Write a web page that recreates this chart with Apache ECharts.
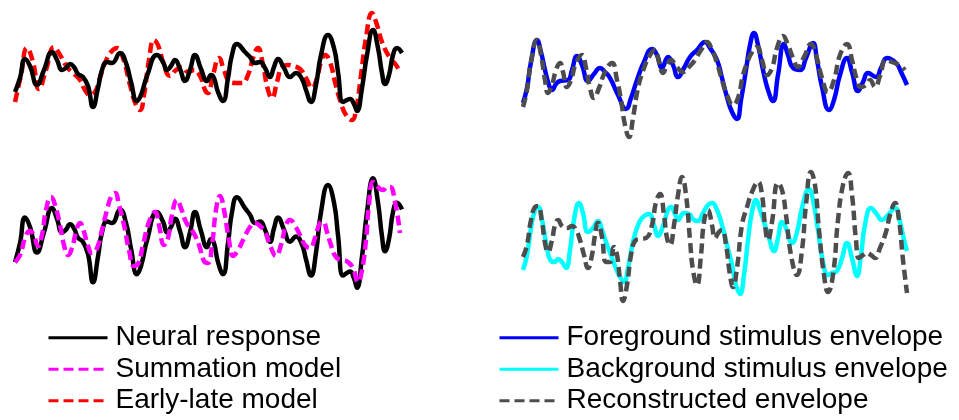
<!DOCTYPE html>
<html>
<head>
<meta charset="utf-8">
<script src="https://cdn.jsdelivr.net/npm/echarts@6/dist/echarts.min.js"></script>
<style>html,body{margin:0;padding:0;background:#fff}#c{width:959px;height:420px}</style>
</head>
<body>
<div id="c"></div>
<script>
// ---- data: [time sample, amplitude] ----
const neuralResponse = [[0,-22],[5,-8],[10,11],[15,4],[22,-15],[29,0],[37,18],[42,10],[47,0],[51,2],[55,6],[59,3],[63,-4],[68,-7],[73,-16],[78,-37],[83,-18],[87,0],[92,8],[97,7],[105,17],[111,7],[116,-12],[122,-31],[126,-25],[132,-6],[142,15],[148,8],[152,0],[156,4],[160,10],[165,1],[170,-11],[175,0],[180,15],[186,1],[192,-11],[196,-5],[199,-8],[203,-22],[208,-31],[213,-8],[217,15],[222,26],[230,18],[235,13],[240,7],[245,8],[250,2],[255,-7],[259,3],[263,11],[269,2],[275,-7],[281,-3],[287,-9],[291,-20],[296,-32],[301,-15],[306,15],[313,35],[319,22],[323,-2],[328,-32],[332,-30],[335,-29],[339,-34],[342,-41],[347,-18],[352,15],[358,40],[363,22],[367,-3],[370,-14],[374,-5],[378,15],[382,22],[387,17]];

const earlyLateModel = [[0,-32],[6,-5],[12,22],[18,8],[24,-19],[31,0],[39,23],[45,15],[52,3],[59,-4],[65,-10],[70,-20],[75,-25],[80,-22],[85,-8],[90,7],[96,18],[102,22],[108,12],[115,-15],[121,-35],[125,-40],[129,-25],[134,10],[139,30],[143,25],[149,5],[155,-6],[161,0],[167,3],[173,-2],[179,0],[185,-6],[190,-20],[193,-23],[198,-5],[204,12],[209,0],[214,-11],[221,-13],[227,-13],[233,-5],[238,12],[243,22],[248,5],[253,-20],[257,-28],[262,-12],[267,3],[273,5],[278,4],[285,1],[291,-8],[297,-18],[302,-8],[306,8],[310,15],[315,8],[320,-12],[325,-30],[331,-45],[337,-50],[341,-40],[346,-5],[351,32],[357,57],[362,45],[367,28],[375,12],[381,5],[385,-2]];

const summationModel = [[0,-22.0],[5,-16.8],[11,-2.0],[15,1.0],[19,-2.7],[23,-10.1],[27,-2.0],[31,16.6],[36,26.2],[40,20.3],[45,5.4],[49,-9.4],[53,-16.8],[57,-11.6],[61,0.3],[65,6.9],[69,0.3],[73,-10.1],[77,-15.3],[82,-11.6],[87,1.7],[92,16.6],[96,26.2],[100,29.1],[104,20.3],[109,5.4],[114,-13.1],[119,-24.9],[123,-23.4],[128,-9.4],[134,7.7],[140,15.1],[144,5.4],[149,-9.4],[153,-4.2],[157,12.9],[162,24.0],[166,18.0],[171,7.7],[178,0.3],[184,-9.4],[189,-21.2],[193,-22.7],[197,-9.4],[201,16.6],[205,26.9],[209,16.6],[214,-5.7],[218,-17.5],[223,-13.1],[229,-4.2],[235,4.0],[240,6.9],[245,4.7],[250,0.3],[255,-9.4],[261,-17.5],[266,-9.4],[271,5.4],[275,9.1],[280,4.7],[285,-2.0],[290,-9.4],[295,-11.6],[300,-4.2],[305,6.9],[308,7.7],[312,0.3],[316,-9.4],[321,-18.3],[327,-20.5],[333,-22.0],[338,-26.4],[343,-36.8],[347,-27.9],[351,-5.7],[354,20.3],[358,37.3],[363,33.6],[368,31.4],[372,33.6],[375,33.6],[380,22.5],[385,-0.5]];

const foregroundEnvelope = [[0,-23],[4,-8],[8,18],[14,40],[18,28],[22,10],[26,-5],[29,-10],[33,-4],[37,-1],[45,0],[49,10],[54,24],[59,15],[65,-1],[71,6],[77,12],[82,8],[87,2],[95,-15],[103,-29],[108,-18],[114,0],[121,18],[129,31],[134,25],[139,12],[145,23],[150,15],[155,3],[161,12],[167,23],[174,30],[182,38],[187,32],[194,20],[199,2],[204,-17],[209,-32],[214,-39],[218,-20],[223,10],[227,35],[231,47],[235,35],[240,10],[245,-10],[250,-21],[255,5],[261,36],[265,25],[270,12],[277,10],[283,22],[290,37],[294,20],[299,-7],[306,-30],[311,-20],[317,5],[324,22],[329,8],[335,-11],[340,-2],[345,7],[353,3],[358,12],[364,22],[373,17],[378,8],[384,-5]];

const reconstructedForeground = [[0,-27],[4,-10],[8,18],[14,40],[18,25],[22,0],[25,-13],[29,-5],[33,10],[37,17],[40,8],[44,-7],[48,0],[53,17],[59,25],[63,12],[67,-8],[71,-18],[76,-8],[82,8],[89,17],[94,0],[98,-20],[102,-45],[106,-57],[110,-38],[115,-8],[121,12],[127,25],[132,30],[136,18],[140,7],[144,15],[148,20],[153,14],[160,8],[166,13],[172,20],[178,30],[184,38],[189,30],[194,17],[199,0],[204,-15],[210,-25],[215,-18],[220,5],[224,17],[229,28],[234,33],[239,20],[244,5],[249,12],[254,32],[260,44],[265,35],[270,22],[275,13],[281,23],[288,36],[293,25],[299,2],[305,-12],[311,0],[317,25],[324,36],[329,20],[334,0],[338,-7],[343,-5],[347,0],[352,-7],[357,4],[363,20],[369,18],[376,15],[382,10]];

const backgroundEnvelope = [[0,-33],[4,-18],[8,9],[12,27],[15,30],[19,17],[23,-5],[28,-24],[32,-25],[35,-22],[39,-25],[43,-31],[47,-13],[51,17],[56,34],[60,24],[65,5],[70,9],[75,16],[79,7],[83,-5],[88,-18],[92,-29],[97,-40],[101,-45],[105,-31],[110,-5],[114,9],[119,19],[126,23],[131,12],[135,1],[140,11],[145,27],[148,30],[152,23],[155,17],[161,24],[166,23],[171,17],[175,16],[180,24],[185,32],[189,34],[194,27],[199,12],[204,-8],[209,-28],[213,-48],[217,-57],[221,-38],[225,-3],[229,25],[233,37],[237,27],[241,15],[246,-1],[251,-14],[255,-1],[259,15],[263,9],[269,-6],[274,5],[279,29],[286,48],[290,37],[295,7],[300,-25],[305,-38],[309,-36],[314,-34],[319,-21],[324,-6],[329,-21],[334,-39],[338,-18],[342,12],[348,29],[353,24],[359,17],[365,22],[372,29],[377,15],[381,-3],[384,-14]];

const reconstructedBackground = [[0,-20],[4,-8],[8,17],[12,30],[15,31],[19,15],[22,-6],[25,-15],[29,-3],[32,12],[35,17],[39,11],[44,9],[49,11],[53,7],[57,-3],[61,-18],[65,-31],[69,-18],[72,2],[75,14],[79,0],[83,-25],[87,-25],[91,-10],[94,-18],[97,-43],[100,-64],[104,-48],[108,-18],[112,-4],[117,-2],[123,-1],[129,12],[133,35],[137,43],[141,22],[144,-1],[147,-8],[151,12],[155,42],[159,60],[163,42],[167,-3],[170,-33],[174,-48],[178,-18],[181,15],[185,27],[189,12],[192,-1],[196,5],[199,7],[203,-8],[207,-38],[210,-50],[214,-31],[219,12],[224,30],[229,45],[235,55],[239,42],[242,12],[245,-3],[249,15],[255,54],[259,47],[263,22],[268,-18],[274,-38],[279,-13],[283,32],[288,65],[292,52],[296,7],[301,-38],[305,-55],[310,-38],[315,17],[320,52],[325,64],[329,42],[333,-3],[336,-21],[340,-18],[344,-16],[348,-18],[352,-21],[357,-11],[363,5],[367,22],[372,34],[376,17],[380,-23],[384,-56]];

const legendLeft = ['Neural response', 'Summation model', 'Early-late model'];
const legendRight = ['Foreground stimulus envelope', 'Background stimulus envelope', 'Reconstructed envelope'];

const chart = echarts.init(document.getElementById('c'), null, {renderer: 'canvas'});
const LW = 4.5;
const DASH = [10, 5];
function ln(name, data, idx, color, dashed, z) {
  return {
    name, type: 'line', data, xAxisIndex: idx, yAxisIndex: idx,
    symbol: 'none', smooth: 0.5, z: z || 2, animation: false,
    lineStyle: {color, width: LW, type: dashed ? DASH : 'solid', cap: 'butt'},
    itemStyle: {color}
  };
}
const font = "'Liberation Sans', Arial, Helvetica, sans-serif";
function legendFor(left, data) {
  return {
    orient: 'vertical', left: left, top: 322, padding: 0,
    itemWidth: 59, itemHeight: 16, itemGap: 0,
    selectedMode: false, data: data,
    lineStyle: {width: 3},
    itemStyle: {opacity: 0},
    textStyle: {fontFamily: font, fontSize: 28, color: '#000', lineHeight: 31.5, padding: [0, 0, 0, 3]}
  };
}
chart.setOption({
  animation: false,
  backgroundColor: '#fff',
  grid: [
    {left: 15, width: 387, top: 10, height: 120},
    {left: 15, width: 387, top: 170, height: 130},
    {left: 523, width: 384, top: 20, height: 120},
    {left: 523, width: 384, top: 167, height: 140}
  ],
  xAxis: [
    {type: 'value', gridIndex: 0, min: 0, max: 387, show: false},
    {type: 'value', gridIndex: 1, min: 0, max: 387, show: false},
    {type: 'value', gridIndex: 2, min: 0, max: 384, show: false},
    {type: 'value', gridIndex: 3, min: 0, max: 384, show: false}
  ],
  yAxis: [
    {type: 'value', gridIndex: 0, min: -60, max: 60, show: false},
    {type: 'value', gridIndex: 1, min: -50.1, max: 46.2, show: false},
    {type: 'value', gridIndex: 2, min: -60, max: 60, show: false},
    {type: 'value', gridIndex: 3, min: -70, max: 70, show: false}
  ],
  legend: [legendFor(47, legendLeft), legendFor(498, legendRight)],
  series: [
    ln('Early-late model', earlyLateModel, 0, '#ff0000', true, 2),
    ln('Neural response', neuralResponse, 0, '#000000', false, 3),
    ln('Neural response', neuralResponse, 1, '#000000', false, 2),
    ln('Summation model', summationModel, 1, '#ff00ff', true, 3),
    ln('Foreground stimulus envelope', foregroundEnvelope, 2, '#0000ff', false, 2),
    ln('Reconstructed envelope', reconstructedForeground, 2, '#4d4d4d', true, 3),
    ln('Background stimulus envelope', backgroundEnvelope, 3, '#00ffff', false, 2),
    ln('Reconstructed envelope', reconstructedBackground, 3, '#4d4d4d', true, 3)
  ]
});
</script>
</body>
</html>
